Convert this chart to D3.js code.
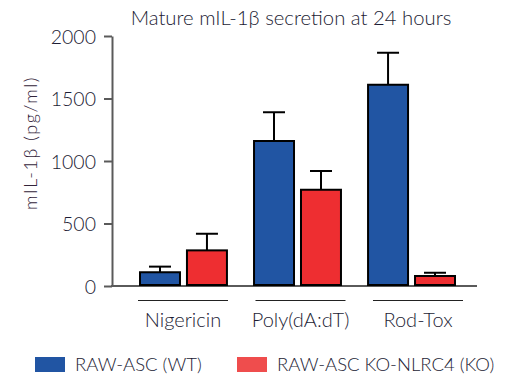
<!DOCTYPE html>
<html>
<head>
<meta charset="utf-8">
<script src="https://cdn.jsdelivr.net/npm/d3@7"></script>
<style>
  html, body { margin: 0; padding: 0; background: #fff; }
  svg { display: block; font-family: Lato, "Open Sans", sans-serif; }
</style>
</head>
<body>
<svg id="chart" width="532" height="382"></svg>
<script>
const categories = ["Nigericin", "Poly(dA:dT)", "Rod-Tox"];
const seriesNames = ["RAW-ASC (WT)", "RAW-ASC KO-NLRC4 (KO)"];
const wtValues = [110, 1160, 1610];
const wtErrors = [155, 1390, 1866];
const koValues = [285, 770, 80];
const koErrors = [418, 920, 106];
const yTicks = [0, 500, 1000, 1500, 2000];
const barColors = ["#2155a3", "#ee2e31"];
const legendColors = ["#2155a3", "#ef4d4d"];
const titleText = "Mature mIL-1\u03b2 secretion at 24 hours";
const yLabelText = "mIL-1\u03b2 (pg/ml)";

const svg = d3.select("#chart");
const textColor = "#1c1c34";

const y = d3.scaleLinear().domain([0, 2000]).range([286, 36]);
const x0 = d3.scaleBand().domain(categories).range([139, 456]).paddingInner(0.22).paddingOuter(0);
const x1 = d3.scaleBand().domain([0, 1]).range([0, x0.bandwidth()]).paddingInner(0.106);
const xLab = d3.scaleBand().domain(categories).range([138, 463]).paddingInner(0.234).paddingOuter(0);

// title
svg.append("text").attr("x", 291).attr("y", 25).attr("text-anchor", "middle")
  .attr("font-size", 20.3).attr("font-weight", 300).attr("fill", textColor).text(titleText);

// y axis
const yAxis = d3.axisLeft(y).tickValues(yTicks).tickFormat(d3.format("d"))
  .tickSize(8).tickSizeOuter(0).tickPadding(8);
const gy = svg.append("g").attr("transform", "translate(112,0)").call(yAxis);
gy.select(".domain").attr("stroke", "#5a5a5a").attr("stroke-width", 2);
gy.selectAll(".tick line").attr("stroke", "#5a5a5a").attr("stroke-width", 2);
gy.selectAll(".tick text").attr("font-size", 19.5).attr("font-weight", 300).attr("fill", textColor)
  .attr("font-family", "Lato, sans-serif").attr("dy", "0.36em");

// x baseline
svg.append("line").attr("x1", 111).attr("x2", 477).attr("y1", y(0)).attr("y2", y(0))
  .attr("stroke", "#5a5a5a").attr("stroke-width", 2);

// y label
svg.append("text").attr("transform", `translate(37,${143}) rotate(-90)`).attr("text-anchor", "middle")
  .attr("font-size", 18).attr("font-weight", 300).attr("letter-spacing", 1.5).attr("fill", "#33243a").text(yLabelText);

// bars
const rows = categories.map((c, i) => ({ c, vals: [wtValues[i], koValues[i]], errs: [wtErrors[i], koErrors[i]] }));
const groups = svg.append("g").selectAll("g").data(rows).join("g")
  .attr("transform", d => `translate(${x0(d.c)},0)`);

groups.selectAll("g.err").data(d => d.vals.map((v, k) => ({ v, e: d.errs[k], k }))).join("g")
  .attr("class", "err").each(function(d) {
  const g = d3.select(this);
  const cx = x1(d.k) + x1.bandwidth() / 2;
  g.append("line").attr("x1", cx).attr("x2", cx).attr("y1", y(d.v)).attr("y2", y(d.e))
    .attr("stroke", "#000").attr("stroke-width", 2);
  g.append("line").attr("x1", cx - 11).attr("x2", cx + 11).attr("y1", y(d.e)).attr("y2", y(d.e))
    .attr("stroke", "#000").attr("stroke-width", 2);
});

groups.selectAll("rect").data(d => d.vals.map((v, k) => ({ v, k }))).join("rect")
  .attr("x", d => x1(d.k) + 1)
  .attr("width", x1.bandwidth() - 2)
  .attr("y", d => y(d.v))
  .attr("height", d => y(0) - y(d.v) - 1)
  .attr("fill", d => barColors[d.k])
  .attr("stroke", "#000").attr("stroke-width", 2);

// group underlines and labels
const labs = svg.append("g").selectAll("g").data(categories).join("g")
  .attr("transform", d => `translate(${xLab(d)},0)`);
labs.append("line").attr("x1", 0).attr("x2", xLab.bandwidth()).attr("y1", 300.5).attr("y2", 300.5)
  .attr("stroke", "#222").attr("stroke-width", 1);
labs.append("text").attr("x", xLab.bandwidth() / 2).attr("y", 327).attr("text-anchor", "middle")
  .attr("font-size", 20).attr("font-weight", 300).attr("fill", textColor).text(d => d);

// legend
const legendX = [35, 237];
seriesNames.forEach((n, i) => {
  svg.append("rect").attr("x", legendX[i]).attr("y", 357).attr("width", 30).attr("height", 15)
    .attr("fill", legendColors[i]);
  svg.append("text").attr("x", legendX[i] + 40).attr("y", 371).attr("font-size", 18.5)
    .attr("font-weight", 300).attr("fill", textColor).text(n);
});
</script>
</body>
</html>
